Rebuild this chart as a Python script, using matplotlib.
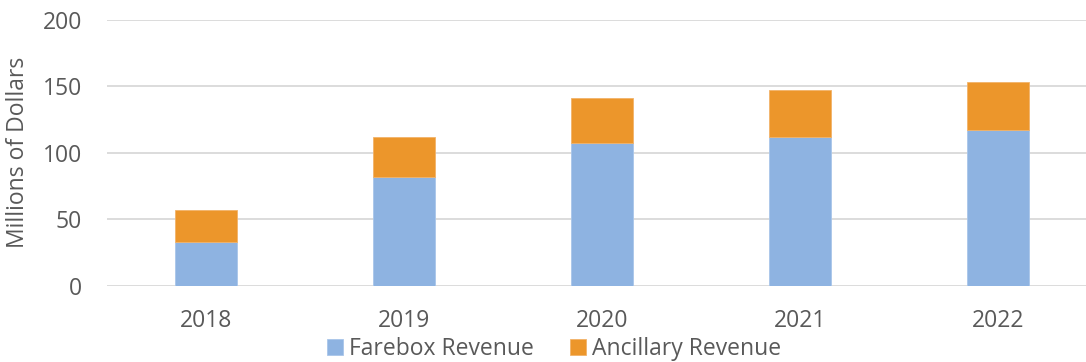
import matplotlib.pyplot as plt
import numpy as np

# Revenue by year, millions of dollars
years = ["2018", "2019", "2020", "2021", "2022"]
farebox = [33, 82, 107, 112, 117]
ancillary = [24, 30, 34, 35, 36]

blue = "#8EB3E1"
orange = "#EC962B"
text_color = "#595959"

plt.rcParams["font.family"] = ["Open Sans", "DejaVu Sans"]

fig = plt.figure(figsize=(10.86, 3.62), dpi=100)
ax = fig.add_axes([0.0983, 0.2113, 1 - 0.0983, 0.7335])

x = np.arange(len(years))
w = 0.313
ax.bar(x, farebox, width=w, color=blue, edgecolor="#A9C6EA", linewidth=0.6,
       label="Farebox Revenue", zorder=3)
ax.bar(x, ancillary, width=w, bottom=farebox, color=orange, edgecolor="#F2B36A",
       linewidth=0.6, label="Ancillary Revenue", zorder=3)

ax.set_ylim(0, 200)
ax.set_xlim(-0.5, 4.445)
ax.set_yticks([0, 50, 100, 150, 200])
ax.set_xticks(x)
ax.set_xticklabels(years)
ax.yaxis.grid(True, color="#D9D9D9", linewidth=1.3, zorder=0)
ax.set_axisbelow(True)
for s in ax.spines.values():
    s.set_visible(False)
ax.tick_params(axis="both", length=0, labelsize=16.5, colors=text_color)
ax.tick_params(axis="x", pad=17)
ax.tick_params(axis="y", pad=18)
ax.set_ylabel("Millions of Dollars", fontsize=16.5, color=text_color, labelpad=9)

leg = fig.legend(loc="center", bbox_to_anchor=(0.51, 1 - 349 / 362), ncol=2,
                 frameon=False, fontsize=16.5, handlelength=0.7, handleheight=0.7,
                 handletextpad=0.25, columnspacing=1.6, labelcolor=text_color,
                 borderpad=0)

fig.savefig("out.png", dpi=100)
